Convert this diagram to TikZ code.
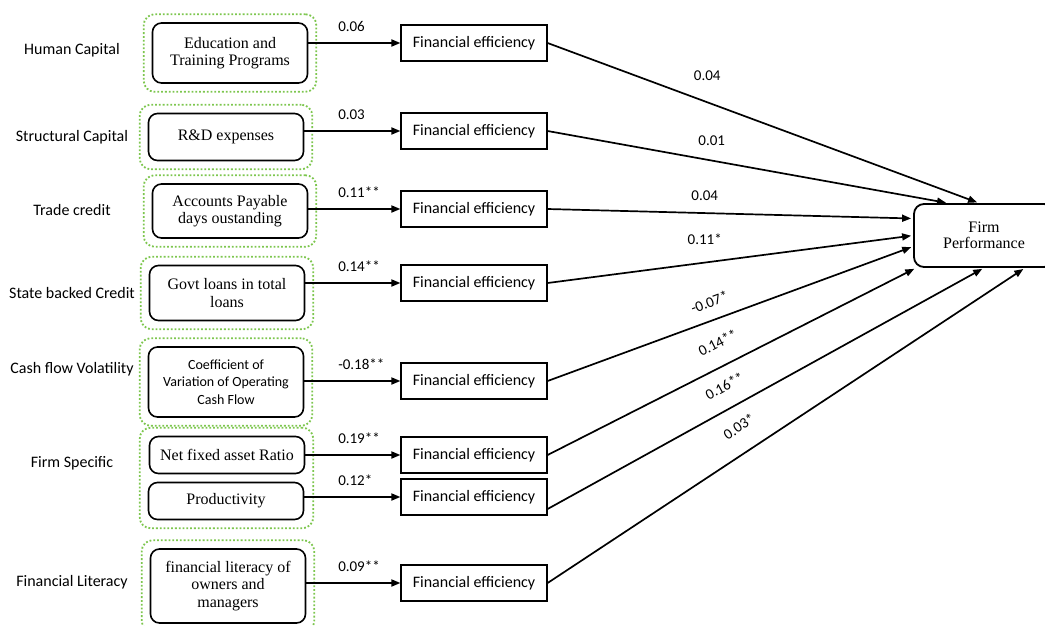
\documentclass[tikz,border=0pt]{standalone}
\usepackage{fontspec}
\setmainfont{Liberation Serif}
\setsansfont{Carlito}
\usetikzlibrary{arrows.meta,fit,positioning}
\definecolor{grpgreen}{RGB}{125,198,78}

\tikzset{
  dimlbl/.style={font=\sffamily\fontsize{16}{19}\selectfont},
  indbox/.style={draw, line width=1.6pt, rounded corners=9pt, align=center,
    minimum width=155pt, font=\fontsize{16}{17.5}\selectfont},
  grpbox/.style={draw=grpgreen, dotted, line width=1.8pt, rounded corners=11pt, inner sep=8pt},
  febox/.style={draw, line width=1.2pt, minimum width=146pt, minimum height=36pt,
    font=\sffamily\fontsize{16}{19}\selectfont},
  coef/.style={font=\sffamily\fontsize{15}{17}\selectfont, inner sep=1pt},
  arr/.style={line width=1.7pt, -{Triangle[length=9pt,width=7pt]}},
  toperf/.style={arr, shorten >=2pt}
}

\begin{document}
\begin{tikzpicture}[x=1pt,y=-1pt]
  \useasboundingbox (0,0) rectangle (1045,625);

  % dimensions
  \foreach \t/\y [count=\k] in {Human Capital/50, Structural Capital/137, Trade credit/210,
      State backed Credit/293, Cash flow Volatility/369, Firm Specific/463, Financial Literacy/582}
    \node[dimlbl] (dim\k) at (72,\y) {\t};

  % indicators
  \node[indbox, minimum height=60pt] (edu) at (230,53) {Education and\\Training Programs};
  \node[indbox, minimum height=47pt] (rnd) at (226,137) {R\&D expenses};
  \node[indbox, minimum height=54pt] (apd) at (230,211) {Accounts Payable\\days oustanding};
  \node[indbox, minimum height=55pt] (gov) at (227,293) {Govt loans in total\\loans};
  \node[indbox, minimum height=70pt, font=\sffamily\fontsize{14}{17.5}\selectfont] (cfv) at (226,382)
    {Coefficient of\\Variation of Operating\\Cash Flow};
  \node[indbox, minimum height=37pt] (nfa) at (227,455) {Net fixed asset Ratio};
  \node[indbox, minimum height=37pt] (prd) at (226,501) {Productivity};
  \node[indbox, minimum height=74pt] (lit) at (228,586) {financial literacy of\\owners and\\managers};

  % dotted groups
  \foreach \a in {edu,rnd,apd,gov,cfv,lit}
    \node[grpbox, fit=(\a)] (g\a) {};
  \node[grpbox, fit=(nfa)(prd)] (gfirm) {};

  % financial efficiency
  \foreach \i/\y in {1/43,2/131,3/209,4/283,5/381,6/455,7/497,8/583}
    \node[febox] (fe\i) at (474,\y) {Financial efficiency};

  \foreach \a/\i/\w in {edu/1/0.06, rnd/2/0.03, apd/3/0.11**, gov/4/0.14**,
      cfv/5/-0.18**, nfa/6/0.19**, prd/7/0.12*, lit/8/0.09**}
    \draw[arr] (\a.east |- fe\i) -- node[coef, pos=1, anchor=south west, xshift=-64pt, yshift=10pt] (w\i) {\w} (fe\i);

  % firm performance
  \node[draw, line width=1.8pt, rounded corners=10pt, minimum width=140pt, minimum height=63pt,
    align=center, font=\fontsize{16}{16}\selectfont] (firm) at (984,235.5) {Firm\\Performance};

  \draw[toperf] (fe1.east) -- node[coef, pos=0.37, yshift=27pt] (p1) {0.04} ([xshift=-5pt]firm.north);
  \draw[toperf] (fe2.east) -- node[coef, pos=0.41, yshift=20pt] (p2) {0.01} ([xshift=-36pt]firm.north);
  \draw[toperf] (fe3.east) -- node[coef, pos=0.43, yshift=17pt] (p3) {0.04} ([yshift=17pt]firm.west);
  \draw[toperf] (fe4.east) -- node[coef, pos=0.43, yshift=23pt] (p4) {0.11*} (firm.west);
  \draw[toperf] (fe5.east) -- node[coef, pos=0.46, sloped, above=11pt] (p5) {-0.07*} ([yshift=-11pt]firm.west);
  \draw[toperf] (fe6.east) -- node[coef, pos=0.49, sloped, above=16pt] (p6) {0.14**} ([xshift=3pt]firm.south west);
  \draw[toperf] ([yshift=-12pt]fe7.east) -- node[coef, pos=0.43, sloped, above=15pt] (p7) {0.16**} (firm.south);
  \draw[toperf] (fe8.east) -- node[coef, pos=0.43, sloped, above=18pt] (p8) {0.03*} ([xshift=41pt]firm.south);
\end{tikzpicture}
\end{document}
